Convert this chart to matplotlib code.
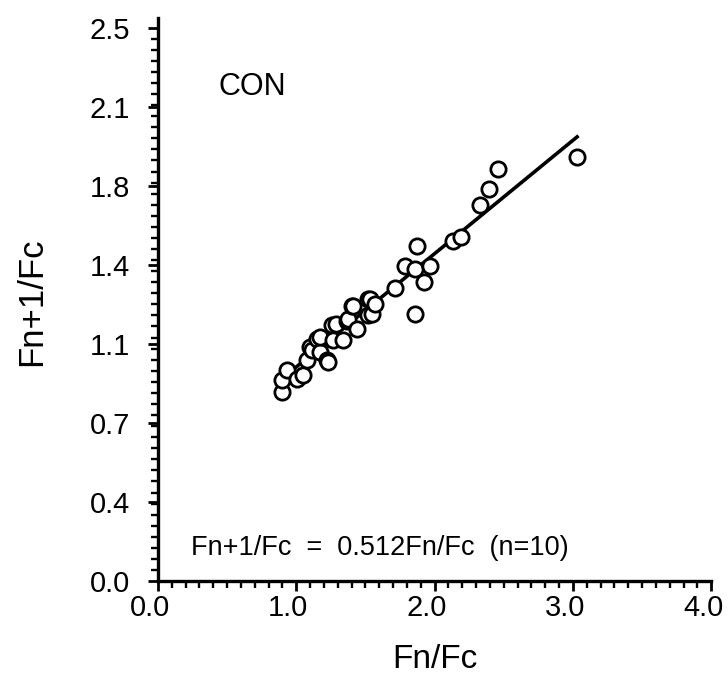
import numpy as np
import matplotlib
matplotlib.use("Agg")
import matplotlib.pyplot as plt
import matplotlib.transforms as mtransforms
from matplotlib.ticker import FixedLocator, MultipleLocator

plt.rcParams['font.family'] = ['Liberation Sans', 'DejaVu Sans']

# Observed ratios: Fn/Fc against Fn+1/Fc
fn_fc = [0.895, 0.895, 0.93, 1.003, 1.05, 1.076, 1.10, 1.11, 1.148, 1.17,
         1.17, 1.22, 1.232, 1.256, 1.268, 1.29, 1.34, 1.365, 1.376, 1.40,
         1.41, 1.437, 1.52, 1.52, 1.53, 1.546, 1.57, 1.714, 1.787, 1.86,
         1.86, 1.875, 1.926, 1.967, 2.136, 2.19, 2.33, 2.39, 2.46, 3.03]
fn1_fc = [0.856, 0.908, 0.953, 0.915, 0.93, 0.998, 1.057, 1.043, 1.095, 1.035,
          1.102, 0.998, 0.99, 1.155, 1.087, 1.162, 1.087, 1.177, 1.184, 1.244,
          1.244, 1.139, 1.274, 1.20, 1.274, 1.207, 1.251, 1.322, 1.423, 1.408,
          1.207, 1.513, 1.349, 1.423, 1.535, 1.555, 1.70, 1.77, 1.861, 1.916]

# Fitted line
slope = 0.512
intercept = 0.455
fit_range = [0.89, 3.03]

x_ticks = [0.0, 1.0, 2.0, 3.0, 4.0]
x_tick_labels = ["0.0", "1.0", "2.0", "3.0", "4.0"]
y_ticks = list(np.linspace(0, 2.5, 8))
y_tick_labels = ["0.0", "0.4", "0.7", "1.1", "1.4", "1.8", "2.1", "2.5"]

fig = plt.figure(figsize=(7.28, 6.82), dpi=100)
ax = fig.add_axes([0.217, 0.148, 0.760, 0.818])

ax.plot(fn_fc, fn1_fc, linestyle='none', marker='o', markersize=11,
        markerfacecolor='white', markeredgecolor='black', markeredgewidth=2.0,
        zorder=3)
fx = np.array(fit_range)
ax.plot(fx, slope * fx + intercept, color='black', linewidth=2.6, zorder=2)

ax.set_xlim(0, 4.0)
ax.set_ylim(0, 2.52)
for side in ('top', 'right'):
    ax.spines[side].set_visible(False)
for side in ('left', 'bottom'):
    ax.spines[side].set_linewidth(2.4)
ax.spines['left'].set_bounds(0, 2.545)

ax.xaxis.set_major_locator(FixedLocator(x_ticks))
ax.set_xticklabels(x_tick_labels)
ax.xaxis.set_minor_locator(MultipleLocator(0.1))
ax.yaxis.set_major_locator(FixedLocator(y_ticks))
ax.set_yticklabels(y_tick_labels)
ax.yaxis.set_minor_locator(FixedLocator(np.arange(0, 2.51, 0.05)))

ax.tick_params(axis='both', which='major', direction='out', length=7,
               width=2.0, labelsize=21)
ax.tick_params(axis='both', which='minor', direction='out', length=5,
               width=1.7)
ax.tick_params(axis='x', which='major', pad=2)
ax.tick_params(axis='y', which='major', pad=13)

# x tick labels sit a little to the left of their ticks
shift = mtransforms.ScaledTranslation(-0.08, 0, fig.dpi_scale_trans)
for lbl in ax.get_xticklabels():
    lbl.set_transform(lbl.get_transform() + shift)

ax.set_xlabel("Fn/Fc", fontsize=24, labelpad=16)
ax.set_ylabel("Fn+1/Fc", fontsize=25, labelpad=30)

ax.text(0.11, 0.885, "CON", transform=ax.transAxes, fontsize=22,
        ha='left', va='center')
ax.text(0.06, 0.059, "Fn+1/Fc  =  0.512Fn/Fc  (n=10)", transform=ax.transAxes,
        fontsize=19.5, ha='left', va='center')

fig.savefig("out.png", dpi=100)
